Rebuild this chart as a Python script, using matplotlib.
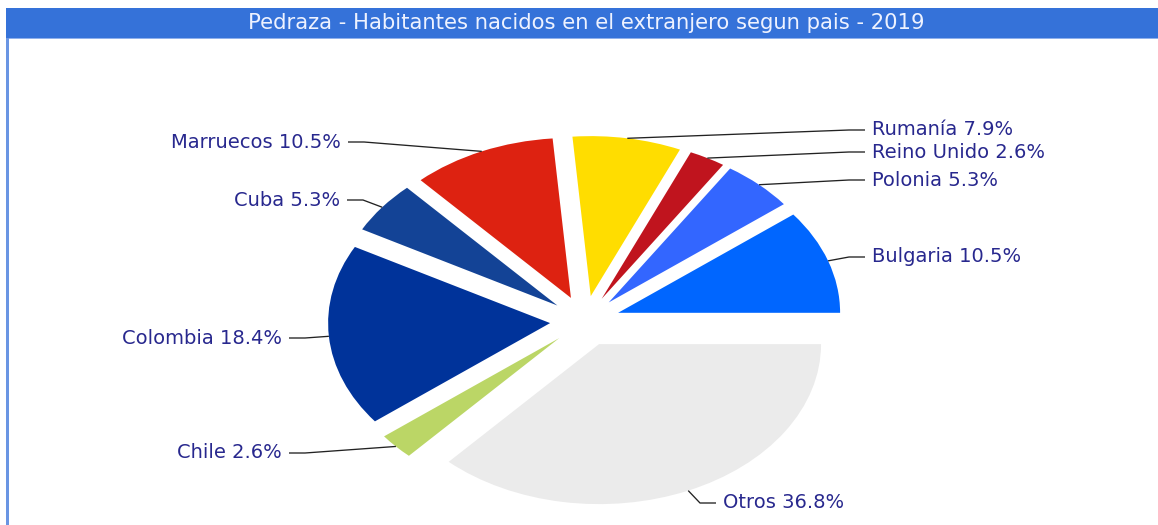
import matplotlib
matplotlib.use('Agg')
import matplotlib.pyplot as plt
import numpy as np
from matplotlib.patches import Rectangle

# ---- data ----
countries = ['Bulgaria', 'Polonia', 'Reino Unido', 'Rumanía', 'Marruecos',
             'Cuba', 'Colombia', 'Chile', 'Otros']
habitantes = [4, 2, 1, 3, 4, 2, 7, 1, 14]
colors = ['#0066FF', '#3366FF', '#C0141E', '#FFDD00', '#DD2211',
          '#134396', '#00339A', '#BBD666', '#EBEBEB']
title = 'Pedraza - Habitantes nacidos en el extranjero segun pais - 2019'

# ---- layout (pixels) ----
W, H = 1158, 525
CX, CY = 585, 321          # pie centre
SX, SY = 222, 160          # pixels per data unit (horizontal / vertical)
EXPLODE = 35 / 222
label_layout = {
    'Bulgaria': (872, 257, 'left'),
    'Polonia': (872, 180, 'left'),
    'Reino Unido': (872, 152, 'left'),
    'Rumanía': (872, 130, 'left'),
    'Marruecos': (341, 142, 'right'),
    'Cuba': (340, 200, 'right'),
    'Colombia': (282, 338, 'right'),
    'Chile': (282, 453, 'right'),
    'Otros': (723, 503, 'left'),
}
LABEL_COLOR = '#28288E'
FONT = 'DejaVu Sans'


def px2data(px, py):
    return (px - CX) / SX, (CY - py) / SY


fig = plt.figure(figsize=(W / 100, H / 100), dpi=100)
fig.patch.set_facecolor('white')
ax = fig.add_axes([0, 0, 1, 1])

wedges, _ = ax.pie(habitantes, colors=colors, startangle=0, counterclock=True,
                   explode=[EXPLODE] * len(habitantes), radius=1,
                   wedgeprops=dict(linewidth=0))
ax.set_aspect('auto')
ax.set_xlim(-CX / SX, (W - CX) / SX)
ax.set_ylim((CY - H) / SY, CY / SY)
ax.axis('off')

total = sum(habitantes)
for w, name, val in zip(wedges, countries, habitantes):
    mid = np.deg2rad((w.theta1 + w.theta2) / 2)
    cx, cy = w.center
    ex, ey = cx + w.r * np.cos(mid), cy + w.r * np.sin(mid)
    px, py, ha = label_layout[name]
    d = -1 if ha == 'left' else 1
    x0, y0 = px2data(px + d * 7, py)
    x1, y1 = px2data(px + d * 23, py)
    ax.plot([x0, x1, ex], [y0, y1, ey], color='#222222', lw=0.95,
            solid_capstyle='butt', zorder=3)
    tx, ty = px2data(px, py)
    ax.text(tx, ty, f'{name} {100 * val / total:.1f}%', ha=ha, va='center',
            color=LABEL_COLOR, fontsize=14, family=FONT, zorder=4)

# title band and frame
fig.add_artist(Rectangle((6 / W, (H - 38) / H), (W - 6) / W, 30 / H,
                         transform=fig.transFigure, facecolor='#3572D9',
                         edgecolor='none', zorder=1))
fig.add_artist(Rectangle((6 / W, (H - 39) / H), (W - 6) / W, 1 / H,
                         transform=fig.transFigure, facecolor='#8FB0EC',
                         edgecolor='none', zorder=1))
fig.add_artist(Rectangle((6 / W, 0), 2.5 / W, (H - 38) / H,
                         transform=fig.transFigure, facecolor='#6A95E3',
                         edgecolor='none', zorder=1))
fig.text(586 / W, (H - 23) / H, title, ha='center', va='center',
         color='#EEF2FF', fontsize=15.2, family=FONT, zorder=2)

fig.savefig('out.png', dpi=100)
